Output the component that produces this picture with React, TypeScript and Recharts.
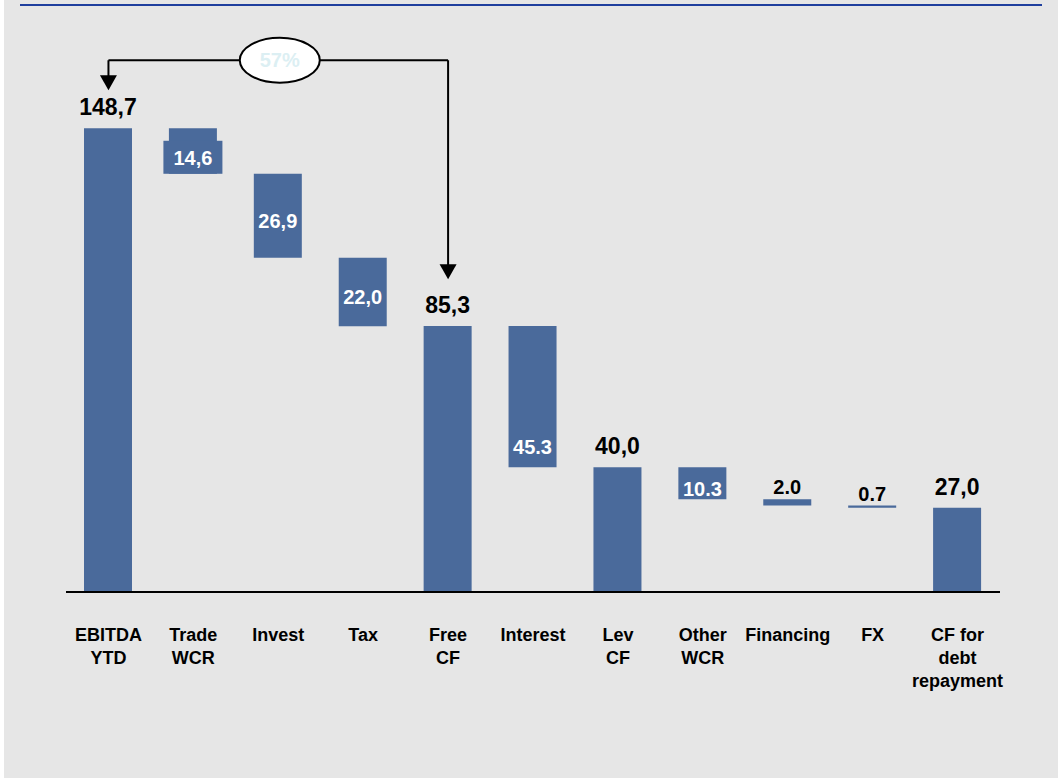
import React from 'react';
import {
  BarChart,
  Bar,
  XAxis,
  YAxis,
  LabelList,
  ReferenceLine,
  ReferenceDot } from
'recharts';

const categories = [
'EBITDA YTD',
'Trade WCR',
'Invest',
'Tax',
'Free CF',
'Interest',
'Lev CF',
'Other WCR',
'Financing',
'FX',
'CF for debt repayment'];

// positive = subtotal bar from zero, negative = step down from running total
const amounts = [148.7, -14.6, -26.9, -22.0, 85.3, -45.3, 40.0, -10.3, -2.0, -0.7, 27.0];
const isTotal = [true, false, false, false, true, false, true, false, false, false, true];
const valueLabels = ['148,7', '14,6', '26,9', '22,0', '85,3', '45.3', '40,0', '10.3', '2.0', '0.7', '27,0'];
const tickLines = [
['EBITDA', 'YTD'],
['Trade', 'WCR'],
['Invest'],
['Tax'],
['Free', 'CF'],
['Interest'],
['Lev', 'CF'],
['Other', 'WCR'],
['Financing'],
['FX'],
['CF for', 'debt', 'repayment']];


// annotation levels (chart units)
const arrowTop = 170.5;
const leftArrowTip = 160.9;
const rightArrowTip = 100.3;

const BAR = '#4a6a9b';
const FONT = '"Liberation Sans", Arial, sans-serif';

// running total -> invisible base + visible step
let running = 0;
const data = categories.map((name, i) => {
  let base = 0;
  let size = amounts[i];
  if (isTotal[i]) {
    running = amounts[i];
  } else {
    running = running + amounts[i];
    base = running;
    size = -amounts[i];
  }
  return { name, base, size, label: valueLabels[i], total: isTotal[i] };
});

const ratio = Math.round(amounts[4] / amounts[0] * 100);

const ValueLabel = (props: any) => {
  const { x, y, width, height, value, index } = props;
  const cx = x + width / 2;
  const name = categories[index];
  const bottom = y + height;
  if (isTotal[index]) {
    return (
      <text x={cx} y={y - 13} textAnchor="middle" fontFamily={FONT} fontWeight="bold" fontSize={23} fill="#000">
        {value}
      </text>);

  }
  if (Math.abs(amounts[index]) < 5) {
    return (
      <text x={cx} y={y - 5} textAnchor="middle" fontFamily={FONT} fontWeight="bold" fontSize={20} fill="#000">
        {value}
      </text>);

  }
  let ty = Math.min(y + height / 2 + 5, bottom - 8);
  if (name === 'Interest') ty = bottom - 20;
  if (name === 'Trade WCR') ty = bottom - 16;
  return (
    <g>
      {name === 'Trade WCR' &&
      <rect x={cx - 29.5} y={bottom - 33} width={59} height={33} fill={BAR} />
      }
      <text x={cx} y={ty} dy="0.36em" textAnchor="middle" fontFamily={FONT} fontWeight="bold" fontSize={20} fill="#fff">
        {value}
      </text>
    </g>);

};

const CategoryTick = (props: any) => {
  const { x, y, index } = props;
  const lines = tickLines[index] || [];
  return (
    <text x={x} y={y + 49} textAnchor="middle" fontFamily={FONT} fontWeight="bold" fontSize={18} fill="#000">
      {lines.map((l, i) =>
      <tspan key={i} x={x} dy={i === 0 ? 0 : 23}>{l}</tspan>
      )}
    </text>);

};

const Arrow = (props: any) => {
  const { x1, y1, x2, y2, head } = props;
  return (
    <g>
      <line x1={x1} y1={y1} x2={x2} y2={head ? y2 - 12 : y2} stroke="#000" strokeWidth={2} />
      {head &&
      <polygon points={`${x2 - 8.5},${y2 - 15} ${x2 + 8.5},${y2 - 15} ${x2},${y2}`} fill="#000" />
      }
    </g>);

};

const RatioBubble = (props: any) => {
  const { cx, cy } = props;
  return (
    <g>
      <ellipse cx={cx + 1.5} cy={cy} rx={40} ry={22.5} fill="#fff" stroke="#000" strokeWidth={2} />
      <text x={cx + 1.5} y={cy} dy="0.36em" textAnchor="middle" fontFamily={FONT} fontWeight="bold" fontSize={20} fill="#dceff3">
        {ratio}%
      </text>
    </g>);

};

export default function App() {
  return (
    <div style={{ position: 'absolute', left: 0, top: 0, width: 1058, height: 778, background: '#fff' }}>
      <div style={{ position: 'absolute', left: 4, top: 0, width: 1054, height: 778, background: '#e6e6e6' }} />
      <div style={{ position: 'absolute', left: 20, top: 4, width: 1022, height: 2, background: '#1f3f9e' }} />
      <div style={{ position: 'absolute', left: 0, top: 0 }}>
        <BarChart
          width={1058}
          height={778}
          data={data}
          barSize={48}
          margin={{ top: 93, right: 58, bottom: 126, left: 66 }}>
          
          <XAxis
            dataKey="name"
            height={60}
            interval={0}
            tickSize={0}
            tickMargin={0}
            tickLine={false}
            axisLine={{ stroke: '#000', strokeWidth: 2 }}
            tick={<CategoryTick />} />
          
          <YAxis hide domain={[0, 160]} allowDataOverflow />
          <Bar dataKey="base" stackId="w" fill="transparent" isAnimationActive={false} />
          <Bar dataKey="size" stackId="w" fill={BAR} isAnimationActive={false}>
            <LabelList dataKey="label" content={<ValueLabel />} />
          </Bar>
          <ReferenceLine
            ifOverflow="visible"
            segment={[{ x: 'EBITDA YTD', y: arrowTop }, { x: 'Free CF', y: arrowTop }]}
            shape={(p: any) => <Arrow {...p} head={false} />} />
          
          <ReferenceLine
            ifOverflow="visible"
            segment={[{ x: 'EBITDA YTD', y: arrowTop }, { x: 'EBITDA YTD', y: leftArrowTip }]}
            shape={(p: any) => <Arrow {...p} head />} />
          
          <ReferenceLine
            ifOverflow="visible"
            segment={[{ x: 'Free CF', y: arrowTop }, { x: 'Free CF', y: rightArrowTip }]}
            shape={(p: any) => <Arrow {...p} head />} />
          
          <ReferenceDot
            ifOverflow="visible"
            x="Invest"
            y={arrowTop}
            shape={(p: any) => <RatioBubble {...p} />} />
          
        </BarChart>
      </div>
    </div>);

}
